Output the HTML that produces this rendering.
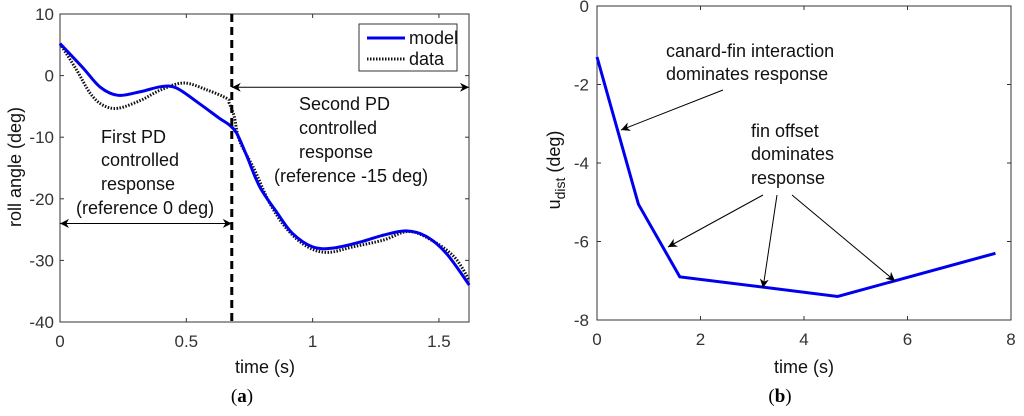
<!DOCTYPE html>
<html><head><meta charset="utf-8"><style>
body{margin:0;background:#fff;}
svg{font-family:"Liberation Sans",sans-serif;}
.tk{font-size:17px;fill:#333;}
.an{font-size:18px;fill:#111;}
</style></head><body>
<svg id="s" width="1024" height="411" viewBox="0 0 1024 411">
<defs>
<marker id="ah" viewBox="0 0 10 10" refX="10" refY="5" markerWidth="9" markerHeight="9" orient="auto-start-reverse" markerUnits="userSpaceOnUse"><path d="M0,0 L10,5 L0,10 L3,5 Z" fill="#000"/></marker>
</defs>
<g id="A"></g>
<g id="B"></g>
</svg>
<script>
const modelT=[0,0.09,0.16,0.23,0.32,0.40,0.46,0.55,0.63,0.67,0.70,0.74,0.79,0.86,0.92,1.0,1.08,1.19,1.28,1.37,1.45,1.53,1.62];
const modelY=[5.2,1.3,-1.9,-3.2,-2.6,-1.8,-2.0,-4.5,-6.9,-8,-9.4,-13.1,-18,-22.3,-25.6,-27.8,-28,-27,-25.9,-25.2,-26.1,-28.9,-34];
const dataT=[0,0.066,0.12,0.17,0.23,0.32,0.40,0.49,0.58,0.66,0.67,0.69,0.71,0.77,0.83,0.90,0.98,1.06,1.16,1.28,1.38,1.47,1.56,1.62];
const dataY=[5.2,0.9,-2.9,-4.8,-5.3,-4,-2.3,-1.2,-2.3,-3.7,-4.5,-6.7,-10.5,-15.3,-20.7,-25,-27.8,-28.7,-27.8,-26.7,-25.3,-26.7,-29.4,-33.2];
const aXTicks=[0,0.5,1,1.5];
const aXTickLabels=["0","0.5","1","1.5"];
const aYTicks=[10,0,-10,-20,-30,-40];
const aYTickLabels=["10","0","-10","-20","-30","-40"];
const bT=[0,0.8,1.6,4.65,7.7];
const bU=[-1.3,-5.05,-6.9,-7.4,-6.3];
const bXTicks=[0,2,4,6,8];
const bXTickLabels=["0","2","4","6","8"];
const bYTicks=[0,-2,-4,-6,-8];
const bYTickLabels=["0","-2","-4","-6","-8"];
const switchT=0.68;

const NS="http://www.w3.org/2000/svg";
function mk(p,tag,at,txt){const e=document.createElementNS(NS,tag);for(const k in at)e.setAttribute(k,at[k]);if(txt!==undefined)e.textContent=txt;p.appendChild(e);return e;}
function smooth(pts){let d="M"+pts[0][0]+","+pts[0][1];for(let i=0;i<pts.length-1;i++){const p0=pts[Math.max(0,i-1)],p1=pts[i],p2=pts[i+1],p3=pts[Math.min(pts.length-1,i+2)];const c1=[p1[0]+(p2[0]-p0[0])/6,p1[1]+(p2[1]-p0[1])/6],c2=[p2[0]-(p3[0]-p1[0])/6,p2[1]-(p3[1]-p1[1])/6];d+=" C"+c1+" "+c2+" "+p2;}return d;}

// Chart A
const A=document.getElementById('A');
const ax0=60,ax1=469,ay0=14,ay1=322;
const axX=t=>ax0+(t-0)/(1.619)*(ax1-ax0);
const axY=v=>ay0+(10-v)/50*(ay1-ay0);
let e=mk(A,'rect',{x:ax0,y:ay0,width:ax1-ax0,height:ay1-ay0,fill:'#fff',stroke:'#333','stroke-width':1});

aXTicks.forEach((t,i)=>{const x=axX(t);mk(A,'line',{x1:x,x2:x,y1:ay1,y2:ay1-4,stroke:'#333'});mk(A,'line',{x1:x,x2:x,y1:ay0,y2:ay0+4,stroke:'#333'});
 e=mk(A,'text',{x:x,y:ay1+25,'text-anchor':'middle',class:'tk'},aXTickLabels[i]);});
aYTicks.forEach((v,i)=>{const y=axY(v);mk(A,'line',{x1:ax0,x2:ax0+4,y1:y,y2:y,stroke:'#333'});mk(A,'line',{x1:ax1,x2:ax1-4,y1:y,y2:y,stroke:'#333'});
 e=mk(A,'text',{x:ax0-6,y:y+6,'text-anchor':'end',class:'tk'},aYTickLabels[i]);});
e=mk(A,'path',{d:smooth(dataT.map((t,i)=>[axX(t),axY(dataY[i])])),fill:'none',stroke:'#111','stroke-width':3,'stroke-dasharray':'1.5,1.5'});

e=mk(A,'path',{d:smooth(modelT.map((t,i)=>[axX(t),axY(modelY[i])])),fill:'none',stroke:'#0000ee','stroke-width':3});

e=mk(A,'line',{x1:axX(switchT),x2:axX(switchT),y1:ay0,y2:ay1,stroke:'#000','stroke-width':3,'stroke-dasharray':'8,5'});

e=mk(A,'line',{x1:ax0,x2:axX(switchT),y1:axY(-24),y2:axY(-24),stroke:'#000','marker-start':'url(#ah)','marker-end':'url(#ah)'});

e=mk(A,'line',{x1:axX(switchT),x2:ax1,y1:axY(-1.9),y2:axY(-1.9),stroke:'#000','marker-start':'url(#ah)','marker-end':'url(#ah)'});

[["First PD",101,143],["controlled",101,166],["response",101,190],["(reference 0 deg)",76,214]].forEach(r=>{e=mk(A,'text',{x:r[1],y:r[2],class:'an'},r[0]);});
[["Second PD",299,110],["controlled",299,134],["response",299,158],["(reference -15 deg)",274,182]].forEach(r=>{e=mk(A,'text',{x:r[1],y:r[2],class:'an'},r[0]);});
e=mk(A,'rect',{x:359,y:24,width:98,height:47,fill:'#fff',stroke:'#333'});
mk(A,'line',{x1:367,x2:405,y1:38,y2:38,stroke:'#0000ee','stroke-width':3});
e=mk(A,'text',{x:409,y:44,class:'an','font-size':'15'},'model');
mk(A,'line',{x1:367,x2:405,y1:59,y2:59,stroke:'#111','stroke-width':3,'stroke-dasharray':'1.5,1.5'});
e=mk(A,'text',{x:409,y:65,class:'an','font-size':'15'},'data');
e=mk(A,'text',{x:265,y:373,'text-anchor':'middle',class:'an','font-size':'19'},'time (s)');
e=mk(A,'text',{x:21,y:167,'text-anchor':'middle',class:'an','font-size':'19',transform:'rotate(-90 21 167)'},'roll angle (deg)');
e=mk(A,'text',{x:242,y:402,'text-anchor':'middle','font-size':'19','font-family':'Liberation Serif, serif'});e.innerHTML='(<tspan font-weight="bold">a</tspan>)';

// Chart B
const B=document.getElementById('B');
const bx0=597,bx1=1011,by0=6,by1=320;
const bxX=t=>bx0+t/8*(bx1-bx0);
const byY=v=>by0+(0-v)/8*(by1-by0);
e=mk(B,'rect',{x:bx0,y:by0,width:bx1-bx0,height:by1-by0,fill:'#fff',stroke:'#333'});
bXTicks.forEach((t,i)=>{const x=bxX(t);mk(B,'line',{x1:x,x2:x,y1:by1,y2:by1-4,stroke:'#333'});mk(B,'line',{x1:x,x2:x,y1:by0,y2:by0+4,stroke:'#333'});
 e=mk(B,'text',{x:x,y:by1+25,'text-anchor':'middle',class:'tk'},bXTickLabels[i]);});
bYTicks.forEach((v,i)=>{const y=byY(v);mk(B,'line',{x1:bx0,x2:bx0+4,y1:y,y2:y,stroke:'#333'});mk(B,'line',{x1:bx1,x2:bx1-4,y1:y,y2:y,stroke:'#333'});
 e=mk(B,'text',{x:bx0-8,y:y+6,'text-anchor':'end',class:'tk'},bYTickLabels[i]);});
e=mk(B,'polyline',{points:bT.map((t,i)=>bxX(t)+','+byY(bU[i])).join(' '),fill:'none',stroke:'#0000ee','stroke-width':3});

[["canard-fin interaction",666,57],["dominates response",666,80]].forEach(r=>{e=mk(B,'text',{x:r[1],y:r[2],class:'an'},r[0]);});
[["fin offset",751,137],["dominates",751,160],["response",751,184]].forEach(r=>{e=mk(B,'text',{x:r[1],y:r[2],class:'an'},r[0]);});
[[723,90,621,130],[763,195,668,247],[777,195,763,288],[792,195,895,281]].forEach(a=>{e=mk(B,'line',{x1:a[0],y1:a[1],x2:a[2],y2:a[3],stroke:'#000','marker-end':'url(#ah)'});});
e=mk(B,'text',{x:804,y:373,'text-anchor':'middle',class:'an','font-size':'19'},'time (s)');
e=mk(B,'text',{x:560,y:170,'text-anchor':'middle',class:'an','font-size':'19',transform:'rotate(-90 560 170)'});e.innerHTML='u<tspan font-size="14" dy="5">dist</tspan><tspan dy="-5"> (deg)</tspan>';
e=mk(B,'text',{x:780,y:402,'text-anchor':'middle','font-size':'19','font-family':'Liberation Serif, serif'});e.innerHTML='(<tspan font-weight="bold">b</tspan>)';
</script>
</body></html>
